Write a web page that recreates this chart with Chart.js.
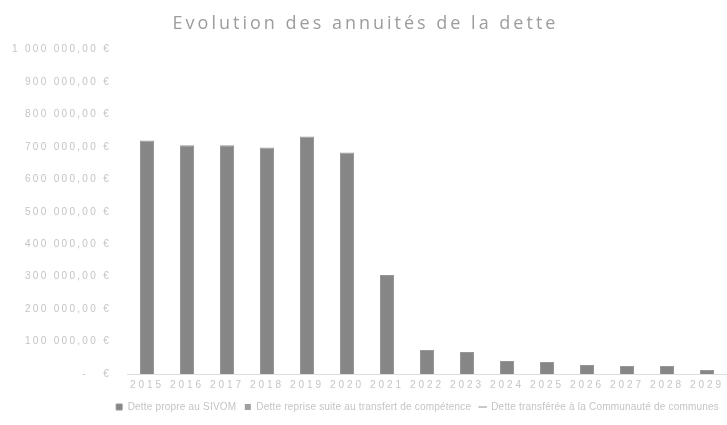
<!DOCTYPE html>
<html>
<head>
<meta charset="utf-8">
<script src="https://cdn.jsdelivr.net/npm/chart.js@4.4.1/dist/chart.umd.min.js"></script>
<style>
  html, body { margin: 0; padding: 0; background: #fff; overflow: hidden; }
  #wrap { width: 727px; height: 425px; }
</style>
</head>
<body>
<div id="wrap"><canvas id="canvas1"></canvas></div>
<script>
const years = ["2015", "2016", "2017", "2018", "2019", "2020", "2021", "2022",
  "2023", "2024", "2025", "2026", "2027", "2028", "2029"];
const detteLabels = [
  "Dette propre au SIVOM",
  "Dette reprise suite au transfert de compétence",
  "Dette transférée à la Communauté de communes"
];
const dettePropre = [720000, 705000, 705000, 698000, 732000, 683000, 305000, 74000,
  68000, 40000, 37000, 28000, 25000, 25000, 12000];
const detteReprise = [];
const detteTransferee = [];

const yMax = 1000000;
const yStep = 100000;

function euro(v) {
  if (v === 0) return "-   €";
  let s = Math.round(v).toString().replace(/\B(?=(\d{3})+(?!\d))/g, " ");
  return s + ",00 €";
}

Chart.defaults.font.family = "'Liberation Sans', 'DejaVu Sans', sans-serif";
Chart.defaults.color = "#c4c4c4";

// the scan looks stretched: spread letters of title and axis labels
function spread(box, spacing) {
  if (!box || box._wrapped) return;
  const orig = box.draw.bind(box);
  box.draw = function(area) {
    box.ctx.save();
    box.ctx.letterSpacing = spacing;
    orig(area);
    box.ctx.restore();
  };
  box._wrapped = true;
}
const spacingPlugin = {
  id: "spacing",
  beforeLayout(chart) {
    chart.ctx.letterSpacing = "0.2px";
    spread(chart.titleBlock, "3px");
    spread(chart.scales.y, "2.3px");
    spread(chart.scales.x, "3px");
  }
};

const ctx = document.getElementById("canvas1").getContext("2d");
let chart = new Chart(ctx, {
  type: "bar",
  data: {
    labels: years,
    datasets: [
      {
        label: detteLabels[0],
        data: dettePropre,
        backgroundColor: "#868686",
        borderColor: "#979797",
        borderWidth: 1,
        grouped: false,
        barPercentage: 0.5,
        categoryPercentage: 0.7,
        pointStyle: "rect"
      },
      {
        label: detteLabels[1],
        data: detteReprise,
        backgroundColor: "#a0a0a0",
        grouped: false,
        barPercentage: 0.5,
        categoryPercentage: 0.7,
        pointStyle: "rect"
      },
      {
        type: "line",
        label: detteLabels[2],
        data: detteTransferee,
        borderColor: "#c8c8c8",
        backgroundColor: "#c8c8c8",
        borderWidth: 2,
        pointRadius: 0,
        pointStyle: "line"
      }
    ]
  },
  options: {
    responsive: true,
    maintainAspectRatio: false,
    animation: false,
    layout: { padding: { left: 4, right: 0, top: 4, bottom: 3 } },
    plugins: {
      title: {
        display: true,
        text: "Evolution des annuités de la dette",
        color: "#9c9c9c",
        font: { size: 18, family: "'Open Sans', sans-serif", weight: "normal" },
        padding: { top: 9, bottom: 15 }
      },
      legend: {
        position: "bottom",
        align: "end",
        labels: {
          color: "#c4c4c4",
          font: { size: 10 },
          usePointStyle: true,
          boxWidth: 7,
          boxHeight: 6,
          padding: 8
        }
      },
      tooltip: { enabled: false }
    },
    scales: {
      x: {
        grid: { display: false, drawTicks: false, tickLength: 0 },
        border: { display: true, color: "#dedede" },
        ticks: { color: "#c4c4c4", font: { size: 10 }, maxRotation: 0, autoSkip: false, padding: 5 },
        afterFit: function(scale) { scale.height = 20; }
      },
      y: {
        min: 0,
        max: yMax,
        grid: { display: false, drawTicks: false, tickLength: 0 },
        border: { display: false },
        ticks: {
          stepSize: yStep,
          color: "#c4c4c4",
          font: { size: 10 },
          padding: 16,
          callback: function(v) { return euro(v); }
        },
        afterFit: function(scale) { scale.width = 123; }
      }
    }
  },
  plugins: [spacingPlugin]
});
</script>
</body>
</html>
